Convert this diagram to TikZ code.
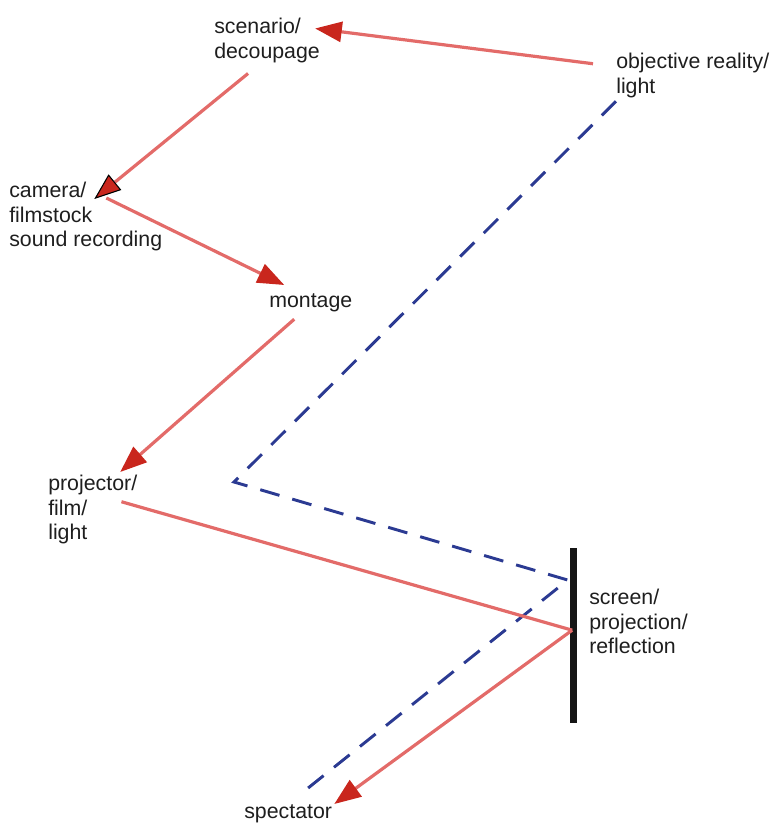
\documentclass[tikz,border=0pt]{standalone}
\usepackage{fontspec}
\setmainfont{Liberation Sans}
\usepackage{tikz}
\usetikzlibrary{arrows.meta}
\definecolor{LineRed}{HTML}{E36B69}
\definecolor{HeadRed}{HTML}{C9261D}
\definecolor{RayBlue}{HTML}{2B3A92}
\definecolor{TextGrey}{HTML}{1E1E1E}
\definecolor{BarBlack}{HTML}{151515}

\begin{document}
\begin{tikzpicture}[
  x=0.75pt, y=-0.75pt,
  redarr/.style={-{Triangle[length=20pt,width=15pt,color=HeadRed]}, line width=2.4pt, color=LineRed},
  redline/.style={line width=2.4pt, color=LineRed},
  blueray/.style={line width=2.2pt, color=RayBlue, dash pattern=on 15pt off 10pt},
  lbl/.style={font=\fontsize{16}{18.4}\selectfont, text=TextGrey, inner sep=0pt,
              anchor=north west, align=left},
  screenbar/.style={fill=BarBlack, inner sep=0pt, minimum width=5.25pt, minimum height=131.25pt},
]
  \useasboundingbox (0,0) rectangle (772,824);

% ===== labels =====
  \node[lbl] (scen) at (214,18) {scenario/\\decoupage};
  \node[lbl] (obj)  at (616,53) {objective reality/\\light};
  \node[lbl] (cam)  at (9,182) {camera/\\filmstock\\sound recording};
  \node[lbl] (mont) at (269,293) {montage};
  \node[lbl] (proj) at (48,475) {projector/\\film/\\light};
  \node[lbl] (scr)  at (589,589) {screen/\\projection/\\reflection};
  \node[lbl] (spec) at (244,804) {spectator};

% ===== screen =====
  \node[screenbar] (bar) at (573.5,635.5) {};

% ===== blue dashed ray : reality -> screen -> spectator =====
  \coordinate (bendL) at (234,482);
  \draw[blueray] ([yshift=-2.5pt]obj.south west) -- (bendL)
    -- ([xshift=-1.5pt,yshift=41.6pt]bar.west) -- ([xshift=15pt,yshift=12pt]spec.north);

% ===== red chain =====
  \draw[redarr] ([xshift=-17.25pt,yshift=8.8pt]obj.west) -- ([xshift=-3.75pt,yshift=9pt]scen.east);
  \draw[redarr, -{Triangle[length=20pt,width=15pt,color=black,fill=HeadRed,line width=0.8pt]}]
    ([xshift=-14.25pt,yshift=-7.9pt]scen.south) -- ([xshift=6.4pt,yshift=-12.75pt]cam.north);
  \draw[redarr] ([xshift=15.4pt,yshift=-12pt]cam.north) -- ([xshift=-19.9pt,yshift=6pt]mont.north);
  \draw[redarr] ([xshift=-12.4pt,yshift=-5.6pt]mont.south) -- ([xshift=20.6pt,yshift=2.25pt]proj.north);
  \draw[redline] ([xshift=-12pt,yshift=6pt]proj.east) -- ([xshift=-1pt,yshift=4pt]bar.center);
  \draw[redarr] ([xshift=-1pt,yshift=4pt]bar.center) -- ([xshift=1.5pt]spec.north east);

\end{tikzpicture}
\end{document}
